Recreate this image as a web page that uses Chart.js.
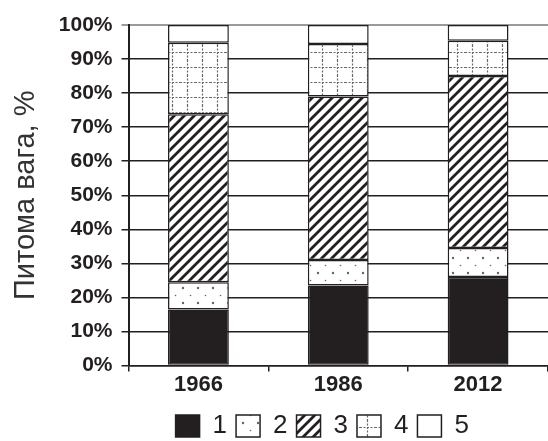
<!DOCTYPE html>
<html><head><meta charset="utf-8">
<script src="https://cdn.jsdelivr.net/npm/chart.js@4.4.1/dist/chart.umd.min.js"></script>
<style>html,body{margin:0;padding:0;background:#fff;overflow:hidden}#wrap{width:548px;height:441px}</style>
</head><body><div id="wrap"><canvas id="c"></canvas></div>
<script>
const categories = ['1966', '1986', '2012'];
const seriesNames = ['1', '2', '3', '4', '5'];
const s1 = [16.5, 23.5, 26];
const s2 = [8, 7.5, 8.5];
const s3 = [49.3, 48, 50.5];
const s4 = [21, 15.4, 10.4];
const s5 = [5.2, 5.6, 4.6];
const yTicks = [0,10,20,30,40,50,60,70,80,90,100];

const INK = '#231f20';
const FONT = 'Liberation Sans, Arial, sans-serif';
function mk(w, h, draw){const c=document.createElement('canvas');c.width=w;c.height=h;const x=c.getContext('2d');x.fillStyle='#fff';x.fillRect(0,0,w,h);draw(x);return document.createElement('canvas').getContext('2d').createPattern(c,'repeat');}
const dots = mk(15,15,x=>{x.fillStyle='#666';x.beginPath();x.arc(3,3,1.2,0,7);x.fill();x.beginPath();x.arc(10.5,10.5,0.8,0,7);x.fill();});
const hatch = mk(10,10,x=>{x.strokeStyle=INK;x.lineWidth=2.8;x.beginPath();
  x.moveTo(-1,11);x.lineTo(11,-1);x.moveTo(-6,6);x.lineTo(6,-6);x.moveTo(4,16);x.lineTo(16,4);x.stroke();});
const grid = mk(15,15,x=>{x.strokeStyle='#666';x.lineWidth=1.2;x.setLineDash([2,1.5]);x.beginPath();x.moveTo(0,7.5);x.lineTo(15,7.5);x.moveTo(7.5,0);x.lineTo(7.5,15);x.stroke();});
const fills = [INK, dots, hatch, grid, '#fff'];
const vals = [s1,s2,s3,s4,s5];

const legendShift = {id:'legendShift', afterLayout(chart){ if(chart.legend){ chart.legend.left -= 16; chart.legend.right -= 16; } }};

new Chart(document.getElementById('c'), {
  type:'bar',
  data:{labels:categories, datasets: vals.map((v,i)=>({label:seriesNames[i], data:v, backgroundColor:fills[i], borderColor:INK, borderWidth:1.5, borderSkipped:false, categoryPercentage:1, barPercentage:0.435}))},
  plugins:[legendShift],
  options:{
    responsive:true, maintainAspectRatio:false, animation:false,
    layout:{padding:{top:25,right:0,left:9,bottom:-8}},
    plugins:{
      tooltip:{enabled:false},
      legend:{position:'bottom', fullSize:false, labels:{boxWidth:24, boxHeight:22, padding:9, color:INK, font:{family:FONT, size:26}}}
    },
    scales:{
      x:{stacked:true, grid:{display:true, drawOnChartArea:false, color:INK, lineWidth:1.5, tickLength:6},
         border:{display:true,color:INK,width:1.5},
         afterFit:s=>{s.height += 6;},
         ticks:{color:INK, padding:0, font:{family:FONT, size:22, weight:'bold'}}},
      y:{stacked:true, min:0, max:100, afterBuildTicks:s=>{s.ticks=yTicks.map(v=>({value:v}));},
         grid:{color:c=>c.tick&&c.tick.value===100?'#9a9a9a':INK, lineWidth:c=>c.tick&&c.tick.value===100?2:1.5, tickLength:7},
         border:{display:true,color:INK,width:2},
         ticks:{color:INK, padding:9, callback:v=>v+'%', font:{family:FONT, size:21, weight:'bold'}},
         title:{display:true, text:'Питома вага, %', color:'#333', padding:{top:0,bottom:6}, font:{family:FONT, size:29}}}
    }
  }
});
</script></body></html>
